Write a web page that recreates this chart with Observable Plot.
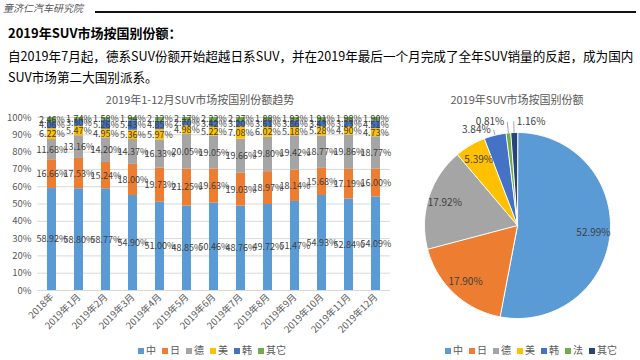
<!DOCTYPE html>
<html><head><meta charset="utf-8">
<script src="https://cdn.jsdelivr.net/npm/d3@7"></script>
<script src="https://cdn.jsdelivr.net/npm/@observablehq/plot@0.6"></script>
<style>
body{margin:0;width:640px;height:360px;overflow:hidden;background:#fff;position:relative;font-family:"Noto Sans CJK SC","Noto Sans",sans-serif}
.abs{position:absolute;white-space:nowrap}
.legend{position:absolute;font-size:10px;color:#595959;display:flex;gap:6px;align-items:center}
.legend span.sw{display:inline-block;width:6px;height:6px;margin-right:2px}
</style></head><body>
<div class="abs" style="left:3px;top:0px;font-size:10px;font-style:italic;color:#555">童济仁汽车研究院</div>
<div class="abs" style="left:95px;top:11px;width:541px;height:2px;background:#111"></div>
<div class="abs" style="left:8px;top:23px;font-size:13px;font-weight:bold;color:#000">2019年SUV市场按国别份额：</div>
<div class="abs" style="left:8px;top:45px;font-size:12.6px;line-height:21px;color:#000">自2019年7月起，德系SUV份额开始超越日系SUV，并在2019年最后一个月完成了全年SUV销量的反超，成为国内<br>SUV市场第二大国别派系。</div>
<div class="abs" style="left:0;width:400px;top:91px;text-align:center;font-size:11px;color:#595959">2019年1-12月SUV市场按国别份额趋势</div>
<div class="abs" style="left:387px;width:260px;top:91px;text-align:center;font-size:11px;color:#595959">2019年SUV市场按国别份额</div>
<div id="bar" class="abs" style="left:0;top:90px"></div>
<div id="pie" class="abs" style="left:380px;top:90px"></div>
<div id="legBar" class="legend" style="left:138px;top:342px"></div>
<div id="legPie" class="legend" style="left:445px;top:342px"></div>
<script>
const months = ["2018年","2019年1月","2019年2月","2019年3月","2019年4月","2019年5月","2019年6月","2019年7月","2019年8月","2019年9月","2019年10月","2019年11月","2019年12月"];
const countries = ["中","日","德","美","韩","其它"];
const barColors = ["#5B9BD5","#ED7D31","#A5A5A5","#FFC000","#4472C4","#70AD47"];
const shareChina   = [58.92,58.80,58.77,54.90,51.00,48.85,50.46,48.76,49.72,51.47,54.93,52.84,54.09];
const shareJapan   = [16.66,17.53,15.24,18.00,19.73,21.25,19.63,19.03,18.97,18.14,15.68,17.19,16.00];
const shareGermany = [11.68,13.16,14.20,14.37,16.33,20.05,19.05,19.66,19.80,19.42,18.77,19.86,18.77];
const shareUS      = [6.22,5.47,4.95,5.36,5.97,4.98,5.22,7.08,6.02,5.18,5.28,4.90,4.73];
const shareKorea   = [4.06,3.30,5.26,5.43,4.85,2.70,3.42,3.20,3.61,3.86,3.43,3.23,4.51];
const shareOther   = [2.46,1.74,1.58,1.94,2.12,2.17,2.22,2.27,1.88,1.93,1.91,1.98,1.90];
const yTicks = [0,10,20,30,40,50,60,70,80,90,100];

const pieCountries = ["中","日","德","美","韩","法","其它"];
const pieShares = [52.99,17.90,17.92,5.39,3.84,0.81,1.16];
const pieColors = ["#5B9BD5","#ED7D31","#A5A5A5","#FFC000","#4472C4","#70AD47","#264478"];

const series = [shareChina, shareJapan, shareGermany, shareUS, shareKorea, shareOther];
const barData = [];
months.forEach((m, i) => countries.forEach((c, j) => barData.push({month: m, country: c, value: series[j][i]})));

const font = '"Noto Sans CJK SC","Noto Sans",sans-serif';
const barPlot = Plot.plot({
  width: 400, height: 250,
  marginLeft: 37, marginRight: 10, marginTop: 27, marginBottom: 50,
  style: {fontFamily: font, fontSize: "9.5px", color: "#595959", background: "transparent"},
  x: {domain: months, paddingInner: 0.66, paddingOuter: 0.35, tickRotate: -45, tickSize: 0, tickPadding: 5, label: null},
  y: {domain: [0, 100], ticks: yTicks, tickFormat: d => d + "%", tickSize: 0, tickPadding: 6, label: null},
  color: {domain: countries, range: barColors},
  marks: [
    Plot.ruleY(yTicks, {stroke: "#d9d9d9"}),
    Plot.barY(barData, Plot.stackY({x: "month", y: "value", z: "country", fill: "country", order: countries})),
    Plot.text(barData, Plot.stackY({x: "month", y: "value", z: "country", order: countries,
      text: d => d.value.toFixed(2) + "%", fill: "#404040", fontSize: 9}))
  ]
});
document.getElementById("bar").appendChild(barPlot);

// pie
const total = d3.sum(pieShares);
let acc = 0;
const slices = pieCountries.map((c, i) => {
  const a0 = acc / total * 2 * Math.PI; acc += pieShares[i];
  const a1 = acc / total * 2 * Math.PI;
  return {c, v: pieShares[i], a0, a1, mid: (a0 + a1) / 2, i};
});
const pts = [];
for (const s of slices) {
  pts.push({c: s.c, x: 0, y: 0});
  const n = Math.max(2, Math.ceil((s.a1 - s.a0) / (Math.PI / 180)));
  for (let k = 0; k <= n; k++) {
    const a = s.a0 + (s.a1 - s.a0) * k / n;
    pts.push({c: s.c, x: Math.sin(a), y: Math.cos(a)});
  }
}
const inside = slices.filter(s => s.v >= 5);
const outside = slices.filter(s => s.v < 5);
const lr = s => (s.v > 2 ? 1.06 : 1.12);
const lastSlice = slices[slices.length - 1];
const piePlot = Plot.plot({
  width: 260, height: 250,
  marginLeft: 44, marginRight: 30, marginTop: 42, marginBottom: 22,
  style: {fontFamily: font, fontSize: "10px", background: "transparent"},
  x: {domain: [-1, 1], axis: null},
  y: {domain: [-1, 1], axis: null},
  color: {domain: pieCountries, range: pieColors},
  marks: [
    Plot.line(pts, {x: "x", y: "y", z: "c", fill: "c", stroke: "white", strokeWidth: 1, curve: "linear-closed"}),
    Plot.text(inside, {x: s => 0.82 * Math.sin(s.mid), y: s => 0.82 * Math.cos(s.mid), text: s => s.v.toFixed(2) + "%", fill: "#404040", fontSize: 10}),
    Plot.link(outside, {x1: s => Math.sin(s.mid), y1: s => Math.cos(s.mid), x2: s => lr(s) * Math.sin(s.mid), y2: s => lr(s) * Math.cos(s.mid), stroke: "#a6a6a6"}),
    Plot.text(outside.filter(s => s !== lastSlice), {x: s => lr(s) * Math.sin(s.mid), y: s => lr(s) * Math.cos(s.mid), text: s => s.v.toFixed(2) + "%", textAnchor: "end", dx: -3, fill: "#404040", fontSize: 10}),
    Plot.text([lastSlice], {x: s => lr(s) * Math.sin(s.mid), y: s => lr(s) * Math.cos(s.mid), text: s => s.v.toFixed(2) + "%", textAnchor: "start", dx: 3, fill: "#404040", fontSize: 10})
  ]
});
document.getElementById("pie").appendChild(piePlot);

function legend(el, names, cols) {
  const div = document.getElementById(el);
  names.forEach((n, i) => {
    const it = document.createElement("span");
    it.innerHTML = `<span class="sw" style="background:${cols[i]}"></span>${n}`;
    div.appendChild(it);
  });
}
legend("legBar", countries, barColors);
legend("legPie", pieCountries, pieColors);
</script>
</body></html>
